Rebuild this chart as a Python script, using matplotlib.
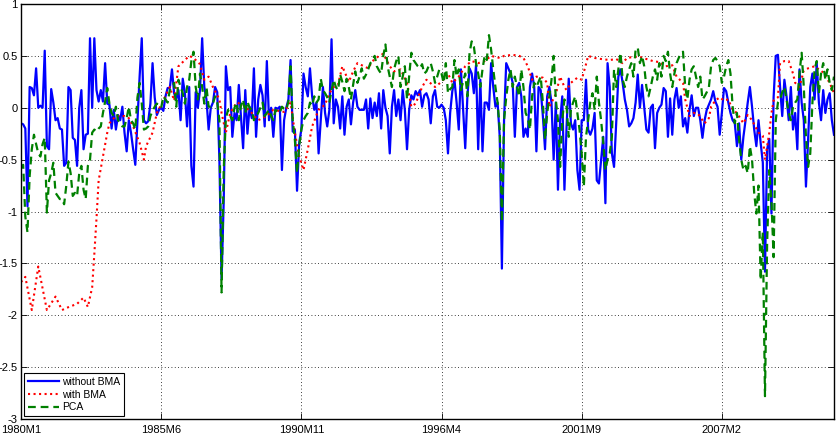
import numpy as np
import matplotlib.pyplot as plt

plt.rcParams['font.family'] = ['Liberation Sans', 'DejaVu Sans']
plt.rcParams['axes.unicode_minus'] = False

# monthly series starting 1980M1
without_bma = [
    -0.15, -0.16, -0.2, -0.95, 0.2, 0.19, 0.12, 0.38, 0.0, 0.02,
    0.0, 0.55, -0.37, -0.4, 0.18, 0.05, -0.12, -0.1, -0.2, -0.21,
    -0.56, -0.53, 0.2, 0.17, -0.29, -0.31, -0.56, 0.0, 0.17, -0.4,
    -0.26, -0.25, 0.67, 0.0, 0.67, 0.17, 0.06, 0.17, 0.06, 0.43,
    0.04, 0.03, -0.2, -0.02, -0.21, -0.07, -0.12, 0.01, -0.24, -0.42,
    -0.12, -0.24, -0.4, -0.55, -0.12, 0.3, 0.67, -0.12, -0.15, -0.13,
    0.04, 0.43, 0.1, -0.07, -0.02, 0.0, -0.03, 0.11, 0.19, 0.19,
    0.37, 0.14, 0.08, 0.17, -0.12, 0.28, 0.14, -0.18, 0.2, -0.56,
    -0.76, 0.15, 0.0, 0.17, 0.67, 0.2, 0.08, -0.21, 0.0, 0.05,
    0.2, 0.15, -0.5, -1.65, -0.9, 0.4, 0.17, 0.2, -0.28, -0.05,
    -0.12, 0.22, -0.08, -0.39, 0.17, -0.25, 0.01, -0.1, 0.38, -0.28,
    0.08, 0.22, 0.12, -0.18, 0.45, -0.12, 0.0, -0.28, 0.0, -0.01,
    0.01, -0.6, -0.12, 0.0, 0.08, 0.46, -0.23, -0.21, -0.8, -0.34,
    -0.21, 0.33, 0.2, 0.11, 0.38, 0.11, -0.02, 0.05, -0.44, -0.12,
    0.2, -0.05, -0.18, -0.02, 0.66, -0.15, 0.08, 0.01, -0.2, 0.11,
    -0.26, 0.01, 0.08, -0.16, 0.05, 0.17, 0.01, -0.02, -0.02, -0.02,
    0.08, -0.2, 0.09, -0.1, 0.05, -0.08, 0.14, -0.2, 0.17, 0.0,
    -0.08, -0.44, 0.01, 0.17, -0.08, 0.08, -0.12, 0.17, -0.02, -0.4,
    -0.02, 0.12, 0.08, 0.16, 0.12, 0.17, 0.01, 0.12, 0.14, 0.08,
    -0.15, 0.11, 0.17, 0.01, 0.0, 0.03, 0.0, -0.12, -0.44, -0.05,
    0.16, 0.27, 0.05, -0.21, 0.37, -0.02, -0.39, 0.11, 0.38, 0.33,
    0.14, 0.41, -0.4, 0.27, -0.42, 0.05, 0.05, -0.02, 0.43, 0.2,
    0.01, 0.05, -0.28, -1.55, -0.12, 0.43, 0.38, 0.33, 0.24, -0.28,
    0.2, 0.24, 0.11, -0.28, -0.2, -0.28, 0.2, 0.33, 0.2, -0.42,
    0.2, 0.17, -0.08, -0.4, 0.11, 0.2, 0.05, -0.5, 0.05, -0.79,
    -0.12, 0.11, -0.79, -0.18, 0.28, -0.15, -0.21, -0.12, -0.6, -0.79,
    -0.12, -0.12, 0.27, -0.21, -0.26, -0.2, -0.05, -0.7, -0.73, -0.5,
    -0.28, -0.92, 0.43, 0.2, -0.44, -0.57, -0.15, 0.3, 0.37, 0.24,
    0.08, -0.02, -0.18, -0.15, -0.1, 0.05, 0.32, 0.0, 0.22, 0.01,
    -0.21, -0.24, 0.0, 0.03, -0.39, -0.05, 0.0, 0.03, 0.19, 0.16,
    -0.28, 0.09, -0.26, 0.08, 0.19, 0.0, 0.11, -0.18, -0.1, -0.24,
    -0.02, 0.12, -0.08, 0.0, 0.0, -0.12, -0.29, -0.12, -0.02, 0.03,
    0.08, 0.16, 0.06, 0.01, -0.26, -0.05, 0.19, 0.16, 0.05, -0.05,
    -0.12, -0.15, -0.37, -0.15, -0.5, -0.28, -0.12, 0.05, 0.2, 0.01,
    -0.21, -0.37, -0.12, -0.34, -0.53, -1.58, -0.4, -0.3, -1.02, 0.1,
    0.5, 0.51, 0.2, -0.08, 0.27, 0.11, -0.12, 0.2, -0.21, -0.05,
    -0.4, 0.37, 0.05, -0.12, -0.76, -0.31, 0.2, 0.33, 0.08, 0.43,
    0.05, -0.12, 0.17, -0.05, 0.08, 0.14, -0.12, -0.26,
]

pca = [
    -0.58, -0.55, -1.05, -1.2, -0.66, -0.4, -0.26, -0.35, -0.44, -0.47,
    -0.35, -0.29, -1.01, -0.7, -0.63, -0.53, -0.82, -0.85, -0.88, -0.88,
    -0.93, -0.75, -0.52, -0.63, -0.85, -0.82, -0.85, -0.63, -0.56, -0.79,
    -0.88, -0.56, -0.5, -0.24, -0.21, -0.23, -0.2, -0.18, -0.05, 0.06,
    0.19, 0.04, -0.05, -0.08, 0.01, -0.12, -0.15, -0.18, -0.18, -0.1,
    0.01, -0.12, -0.15, -0.21, 0.1, 0.24, 0.04, -0.21, -0.2, -0.18,
    -0.08, -0.03, 0.01, 0.04, 0.02, 0.0, 0.11, 0.08, 0.05, 0.17,
    0.2, 0.24, 0.01, 0.27, 0.2, 0.14, 0.04, 0.2, 0.27, 0.45,
    0.54, 0.2, 0.08, 0.33, 0.2, 0.04, 0.2, 0.01, 0.01, 0.04,
    0.11, 0.05, -0.12, -1.78, -0.6, -0.1, -0.02, -0.08, -0.12, 0.0,
    0.05, -0.12, 0.02, 0.08, -0.05, 0.06, 0.0, -0.02, -0.12, -0.08,
    -0.05, 0.0, 0.05, -0.08, -0.05, -0.02, -0.08, -0.12, -0.02, -0.04,
    -0.05, 0.01, -0.01, -0.02, 0.06, 0.4, -0.12, -0.31, -0.63, -0.37,
    -0.21, -0.12, -0.08, -0.05, 0.05, 0.02, 0.11, 0.05, 0.08, 0.28,
    0.17, 0.14, 0.1, 0.05, 0.17, 0.27, 0.2, 0.17, 0.32, 0.25,
    0.16, 0.28, 0.2, 0.08, 0.22, 0.35, 0.24, 0.3, 0.38, 0.28,
    0.32, 0.37, 0.43, 0.45, 0.5, 0.4, 0.36, 0.33, 0.5, 0.61,
    0.4, 0.3, 0.2, 0.37, 0.45, 0.5, 0.2, 0.3, 0.4, 0.08,
    0.3, 0.53, 0.46, 0.43, 0.4, 0.38, 0.42, 0.33, 0.35, 0.4,
    0.43, 0.35, 0.24, 0.3, 0.37, 0.33, 0.24, 0.43, 0.14, 0.18,
    0.2, 0.46, 0.3, 0.37, 0.17, 0.25, 0.33, 0.11, 0.53, 0.64,
    0.59, 0.43, 0.33, 0.2, 0.37, 0.5, 0.46, 0.7, 0.56, 0.37,
    0.2, 0.05, -0.21, -1.1, -0.12, 0.1, 0.27, 0.37, 0.2, 0.3,
    0.2, 0.11, 0.37, 0.2, -0.05, -0.1, -0.21, 0.11, 0.24, 0.2,
    0.25, 0.3, 0.05, -0.31, -0.05, 0.1, 0.27, 0.5, 0.08, -0.12,
    -0.57, -0.12, 0.08, 0.01, -0.28, -0.02, 0.05, 0.11, -0.05, -0.21,
    -0.44, -0.76, -0.28, -0.12, 0.05, 0.14, -0.02, 0.3, 0.05, -0.12,
    -0.34, -0.6, -0.5, -0.44, -0.28, 0.37, 0.2, 0.37, 0.53, 0.27,
    0.2, 0.3, 0.37, 0.43, 0.3, 0.56, 0.58, 0.43, 0.5, 0.4,
    0.2, 0.11, 0.2, 0.3, 0.37, 0.27, 0.43, 0.3, 0.5, 0.45,
    0.54, 0.33, 0.2, 0.33, 0.43, 0.48, 0.53, 0.54, 0.2, 0.08,
    0.27, 0.37, 0.4, 0.3, 0.2, 0.3, 0.08, 0.11, 0.15, 0.2,
    0.4, 0.46, 0.48, 0.45, 0.4, 0.24, 0.3, 0.4, 0.46, 0.33,
    0.01, -0.15, -0.05, -0.31, -0.5, -0.6, -0.56, -0.63, -0.37, -0.5,
    -0.82, -1.02, -0.75, -1.66, -1.2, -2.78, -1.3, -0.6, -0.9, -1.44,
    -0.12, 0.05, 0.08, 0.15, 0.2, 0.08, -0.05, -0.12, 0.01, 0.05,
    0.08, 0.33, 0.53, 0.2, -0.28, -0.57, -0.44, 0.05, 0.37, 0.45,
    0.14, 0.33, 0.43, 0.27, 0.37, 0.24, 0.17, 0.3,
]

# with BMA is smooth: read at turning points (month index, value)
with_bma_month = [
    0, 2, 5, 8, 12, 16, 19, 21, 26, 29,
    31, 33, 34, 35, 36, 38, 40, 41, 44, 48,
    50, 52, 55, 57, 58, 61, 63, 66, 69, 71,
    73, 76, 78, 80, 83, 85, 87, 89, 92, 93,
    95, 97, 100, 103, 107, 110, 114, 117, 122, 125,
    127, 129, 131, 133, 135, 138, 141, 143, 145, 147,
    149, 152, 154, 156, 158, 161, 163, 166, 168, 171,
    173, 176, 179, 181, 183, 186, 188, 192, 195, 198,
    200, 203, 206, 209, 212, 215, 218, 222, 224, 228,
    231, 233, 235, 237, 239, 242, 244, 245, 248, 250,
    252, 253, 255, 258, 260, 262, 263, 266, 269, 273,
    276, 279, 281, 284, 287, 290, 293, 296, 299, 302,
    304, 307, 308, 310, 312, 314, 317, 319, 320, 322,
    324, 326, 328, 330, 332, 335, 337, 339, 342, 344,
    345, 347, 348, 349, 351, 352, 354, 356, 358, 359,
    361, 363, 365, 368, 370, 372, 375, 377,
]
with_bma = [
    -1.68, -1.63, -1.95, -1.53, -1.95, -1.82, -1.95, -1.93, -1.89, -1.83,
    -1.92, -1.73, -1.41, -1.07, -0.7, -0.47, -0.24, -0.15, -0.08, -0.08,
    -0.1, -0.18, -0.34, -0.5, -0.37, -0.24, -0.05, 0.07, 0.2, 0.07,
    0.4, 0.46, 0.5, 0.48, 0.42, 0.27, 0.3, 0.2, 0.08, -0.05,
    -0.24, -0.05, 0.05, 0.03, -0.05, -0.12, -0.08, -0.02, -0.04, 0.05,
    -0.24, -0.47, -0.6, -0.4, -0.18, -0.02, 0.03, 0.14, 0.2, 0.22,
    0.4, 0.25, 0.35, 0.43, 0.41, 0.38, 0.45, 0.5, 0.52, 0.4,
    0.35, 0.37, 0.24, 0.01, 0.04, 0.2, 0.27, 0.2, 0.25, 0.33,
    0.24, 0.3, 0.4, 0.45, 0.43, 0.45, 0.5, 0.48, 0.5, 0.51,
    0.5, 0.48, 0.4, 0.27, 0.3, 0.29, 0.24, 0.01, 0.13, 0.3,
    0.2, 0.17, 0.24, 0.29, 0.27, 0.42, 0.5, 0.48, 0.47, 0.46,
    0.47, 0.43, 0.48, 0.49, 0.49, 0.47, 0.45, 0.44, 0.4, 0.41,
    0.3, 0.24, 0.08, -0.08, -0.05, -0.06, -0.15, -0.1, 0.01, 0.07,
    0.1, 0.07, 0.08, -0.02, -0.05, -0.15, -0.07, -0.12, -0.24, -0.27,
    -0.5, -0.24, -0.05, 0.07, 0.1, 0.43, 0.45, 0.45, 0.33, 0.24,
    0.2, 0.36, 0.38, 0.4, 0.37, 0.34, 0.24, 0.14,
]

tick_labels = ['1980M1', '1985M6', '1990M11', '1996M4', '2001M9', '2007M2']


def month_index(label):
    year, month = label.split('M')
    return (int(year) - 1980) * 12 + int(month) - 1


fig = plt.figure(figsize=(8.37, 4.4), dpi=100)
ax = fig.add_axes([0.0251, 0.0477, 0.9713, 0.9432])

ax.plot(np.arange(len(without_bma)), without_bma, '-', color='#0000ff',
        lw=1.6, label='without BMA')
ax.plot(with_bma_month, with_bma, ':', color='#ff0000', lw=1.5,
        label='with BMA')
ax.plot(np.arange(len(pca)), pca, '--', color='#008000', lw=1.6,
        dashes=(3.5, 2.2), label='PCA')

ax.set_xlim(0, len(without_bma) - 1)
ax.set_ylim(-3, 1)
ax.set_xticks([month_index(s) for s in tick_labels])
ax.set_xticklabels(tick_labels)
yt = np.arange(-3, 1.01, 0.5)
ax.set_yticks(yt)
ax.set_yticklabels(['%g' % v for v in yt])

ax.tick_params(direction='in', length=4, width=0.6, labelsize=8,
               top=True, right=True)
ax.tick_params(axis='x', pad=4.5)
ax.tick_params(axis='y', pad=2.5)
ax.grid(True, color='k', ls=(0, (1, 3)), lw=0.6)
for s in ax.spines.values():
    s.set_linewidth(1.0)

leg = ax.legend(loc='lower left', fontsize=7.5, frameon=True, fancybox=False,
                edgecolor='k', framealpha=1, handlelength=3.0,
                handletextpad=0.3, labelspacing=0.25, borderpad=0.35,
                borderaxespad=0.3)
leg.get_frame().set_linewidth(0.8)

fig.savefig('out.png', dpi=100)
